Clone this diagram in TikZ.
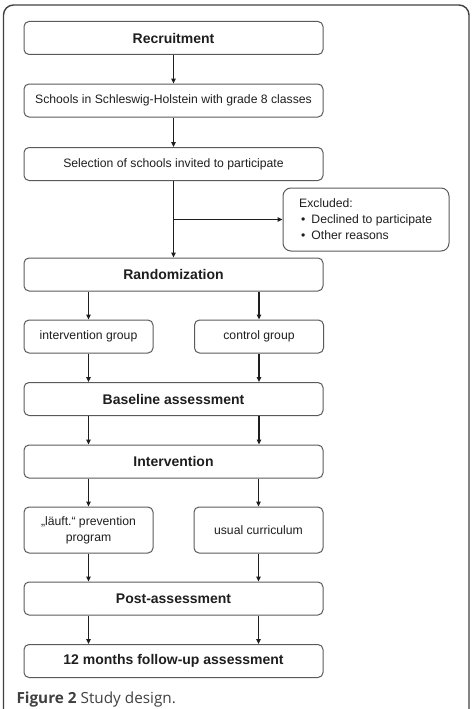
\documentclass[tikz,border=0pt]{standalone}
\usepackage{fontspec}
\setmainfont{Liberation Sans}
\newfontfamily\capfont{Open Sans}
\usepackage{tikz}
\usetikzlibrary{positioning,arrows.meta}

\definecolor{boxline}{HTML}{5A5A5A}
\definecolor{inkdark}{HTML}{1E1E1E}

\begin{document}
\begin{tikzpicture}[on grid,node distance=62.5pt,line width=1pt,
	bigbox/.style={draw=boxline,rounded corners=5pt,minimum width=299pt,minimum height=33pt,font=\fontsize{14}{16.5}\selectfont\bfseries,text=inkdark},
	smallbox/.style={draw=boxline,rounded corners=5pt,minimum width=299pt,minimum height=33pt,font=\fontsize{12.2}{16}\selectfont,text=inkdark},
	grpbox/.style={draw=boxline,rounded corners=5pt,minimum width=129pt,minimum height=33pt,align=center,font=\fontsize{12.2}{16}\selectfont,text=inkdark},
	arr/.style={-{Triangle[length=5pt,width=4.5pt]},draw=inkdark,line width=1.3pt}]
	\useasboundingbox (0,0) rectangle (473pt,-709pt);
	% outer frame, open at the bottom
	\draw[line width=1.4pt,draw=inkdark!85,rounded corners=10pt] (3.5pt,-712pt) -- (3.5pt,-5pt) -- (469pt,-5pt) -- (469pt,-712pt);

	\node[bigbox] (rec) at (173.5pt,-38pt) {Recruitment};
	\node[smallbox] (sch) [below=of rec] {Schools in Schleswig-Holstein with grade 8 classes};
	\node[smallbox] (sel) [below=63.5pt of sch] {Selection of schools invited to participate};
	\node[draw=boxline,rounded corners=8pt,minimum width=166pt,minimum height=63pt,align=left,font=\fontsize{12.2}{16.5}\selectfont,text=inkdark,inner xsep=7pt] (excl) [below right=55.5pt and 192.5pt of sel]
		{Excluded:\hspace*{80pt}\\[-1pt]\hspace*{2pt}\textbullet\hspace{6pt}Declined to participate\\\hspace*{2pt}\textbullet\hspace{6pt}Other reasons};
	\node[bigbox] (rand) [below=110.5pt of sel] {Randomization};
	\node[grpbox] (ig) [below left=62pt and 85pt of rand] {intervention group};
	\node[grpbox] (cg) [below right=62pt and 85.5pt of rand] {control group};
	\node[bigbox] (base) [below=124.5pt of rand] {Baseline assessment};
	\node[bigbox] (int) [below=of base] {Intervention};
	\node[grpbox,minimum height=46pt] (prog) [below left=68.5pt and 85pt of int] {„läuft.“ prevention\\program};
	\node[grpbox,minimum height=46pt] (usual) [below right=68.5pt and 85pt of int] {usual curriculum};
	\node[bigbox] (post) [below=137pt of int] {Post-assessment};
	\node[bigbox] (fol) [below=of post] {12 months follow-up assessment};
	\node[anchor=base west,font=\capfont\fontsize{15.3}{17}\selectfont,text=inkdark!85,inner sep=0pt] (cap) at (16pt,-703pt) {\textbf{Figure 2} Study design.};

	\coordinate (split) at (sel.south |- excl.west);
	\draw[arr] (rec) -- (sch);
	\draw[arr] (sch) -- (sel);
	\draw[arr] (sel) -- (rand);
	\draw[arr] (split) -- (excl);
	\foreach \g in {ig,cg} {
		\draw[arr] (rand.south -| \g) -- (\g);
		\draw[arr] (\g) -- (\g |- base.north);
		\draw[arr] (base.south -| \g) -- (\g |- int.north);
	}
	\foreach \g in {prog,usual} {
		\draw[arr] (int.south -| \g) -- (\g);
		\draw[arr] (\g) -- (\g |- post.north);
		\draw[arr] (post.south -| \g) -- (\g |- fol.north);
	}
\end{tikzpicture}
\end{document}
